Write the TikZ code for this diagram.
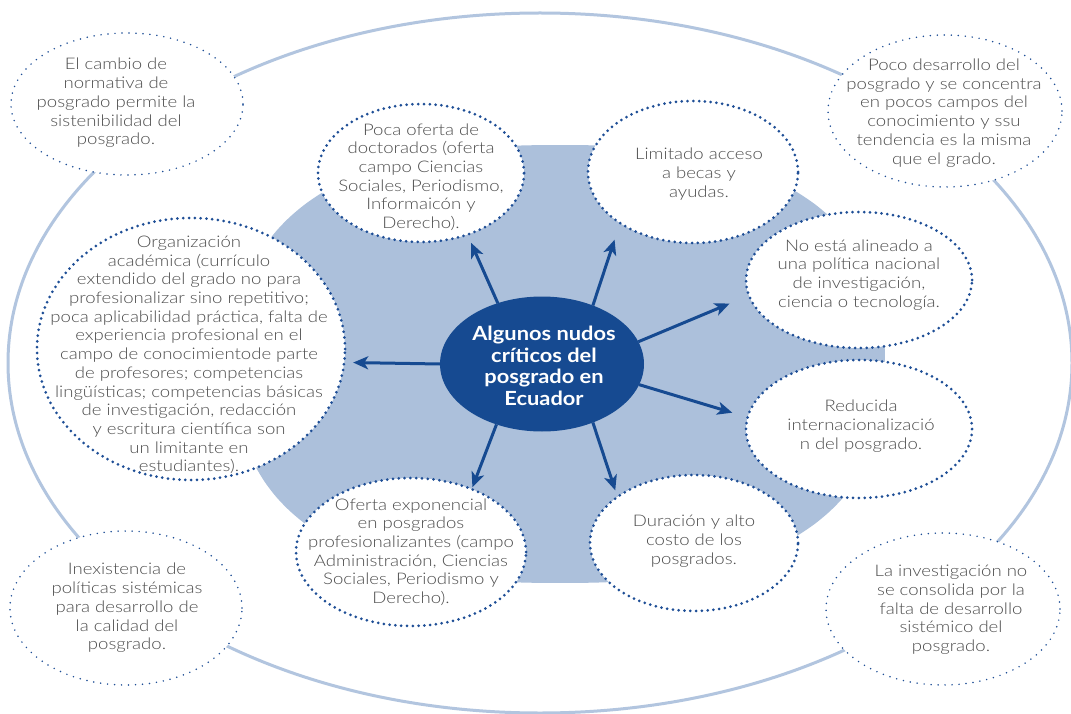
\documentclass[tikz,border=0pt]{standalone}
\usepackage{fontspec}
\setmainfont{Lato}[UprightFont={* Light},BoldFont={* Bold},
  UprightFeatures={FakeStretch=1.16},BoldFeatures={FakeStretch=1.12}]
\usetikzlibrary{arrows.meta,shapes.geometric}

\definecolor{dblue}{RGB}{22,74,145}
\definecolor{dotblue}{RGB}{30,78,150}
\definecolor{blobblue}{RGB}{172,192,219}
\definecolor{ringblue}{RGB}{178,197,223}
\definecolor{txtgray}{RGB}{78,78,78}

\tikzset{
  bubble/.style={ellipse, fill=white, draw=dotblue, line width=3pt,
    dash pattern=on 0pt off 5.8pt, line cap=round, inner sep=0pt, outer sep=0pt},
  cornerbubble/.style={ellipse, fill=white, draw=dotblue, line width=1.7pt,
    dash pattern=on 0pt off 7pt, line cap=round, inner sep=0pt, outer sep=0pt},
  hub/.style={ellipse, fill=dblue, draw=none, inner sep=0pt, outer sep=0pt},
  txt/.style={align=center, inner sep=0pt, text=txtgray,
    font=\fontsize{16}{18.7}\selectfont},
  hubtxt/.style={align=center, inner sep=0pt, text=white,
    font=\bfseries\fontsize{19.5}{21.5}\selectfont},
  arr/.style={draw=dblue, line width=3pt,
    -{Stealth[length=15pt,width=13pt,inset=4pt]}},
}

\begin{document}
\begin{tikzpicture}[x=1pt,y=-1pt]
\useasboundingbox (0,0) rectangle (1071,714);
\fill[white] (0,0) rectangle (1071,714);

% outer ring
\draw[ringblue, line width=3pt] (540,363) ellipse [x radius=532, y radius=350];

% light blue backdrop behind the inner bubbles
\fill[blobblue] plot[domain=2.5:357.5, samples=72, smooth cycle]
  ({560+325*cos(\x)/abs(cos(\x))^0.2}, {364+219*sin(\x)/abs(sin(\x))^0.2});

% corner bubbles
\node[cornerbubble, minimum width=232pt, minimum height=142pt] (k1) at (127,104) {};
\node[cornerbubble, minimum width=234pt, minimum height=152pt] (k2) at (945,111) {};
\node[cornerbubble, minimum width=232pt, minimum height=154pt] (k3) at (126,608) {};
\node[cornerbubble, minimum width=234pt, minimum height=152pt] (k4) at (943,609) {};

% inner bubbles
\node[bubble, minimum width=308pt, minimum height=262pt] (t0) at (191,349) {};
\node[bubble, minimum width=206pt, minimum height=138pt] (t1) at (421,173) {};
\node[bubble, minimum width=210pt, minimum height=142pt] (t2) at (693,172) {};
\node[bubble, minimum width=226pt, minimum height=136pt] (t3) at (859,280) {};
\node[bubble, minimum width=226pt, minimum height=138pt] (t4) at (859,429) {};
\node[bubble, minimum width=208pt, minimum height=136pt] (t5) at (694,543) {};
\node[bubble, minimum width=230pt, minimum height=148pt] (t6) at (411,552) {};

% central node
\node[hub, minimum width=204pt, minimum height=135pt] (c) at (542,364) {};

% arrows from the centre to each bubble
\draw[arr, shorten >=9pt]  (c.126.4) -- (t1.-53.1);
\draw[arr, shorten >=17.5pt] (c.49.7) -- (t2.215.5);
\draw[arr, shorten >=21pt] (c.13) -- (t3.188.9);
\draw[arr, shorten >=16pt] (c.-12.2) -- (t4.174.2);
\draw[arr, shorten >=7pt]  (c.-49.7) -- (t5.149);
\draw[arr, shorten >=2pt]  (c.233.6) -- (t6.46.9);
\draw[arr, shorten >=9pt]  (c.180) -- (t0.-5.2);

% texts
\node[hubtxt] (ctext) at (544,366) {Algunos nudos\\críticos del\\posgrado en\\Ecuador};

\node[txt] (k1text) at (116,103) {El cambio de\\normativa de\\posgrado permite la\\sistenibilidad del\\posgrado.};
\node[txt] (k2text) at (944,113) {Poco desarrollo del\\posgrado y se concentra\\en pocos campos del\\conocimiento y ssu\\tendencia es la misma\\que el grado.};
\node[txt] (k3text) at (127,608) {Inexistencia de\\políticas sistémicas\\para desarrollo de\\la calidad del\\posgrado.};
\node[txt] (k4text) at (951,610) {La investigación no\\se consolida por la\\falta de desarrollo\\sistémico del\\posgrado.};

\node[txt] (t0text) at (189,355) {Organización\\académica (currículo\\extendido del grado no para\\profesionalizar sino repetitivo;\\poca aplicabilidad práctica, falta de\\experiencia profesional en el\\campo de conocimientode parte\\de profesores; competencias\\lingüísticas; competencias básicas\\de investigación, redacción\\y escritura científica son\\un limitante en\\estudiantes).};
\node[txt] (t1text) at (421,177) {Poca oferta de\\doctorados (oferta\\campo Ciencias\\Sociales, Periodismo,\\Informaicón y\\Derecho).};
\node[txt] (t2text) at (699,174) {Limitado acceso\\a becas y\\ayudas.};
\node[txt] (t3text) at (859,275) {No está alineado a\\una política nacional\\de investigación,\\ciencia o tecnología.};
\node[txt] (t4text) at (861,426) {Reducida\\internacionalizació\\n del posgrado.};
\node[txt] (t5text) at (694,541) {Duración y alto\\costo de los\\posgrados.};
\node[txt] (t6text) at (411,552) {Oferta exponencial\\en posgrados\\profesionalizantes (campo\\Administración, Ciencias\\Sociales, Periodismo y\\Derecho).};
\end{tikzpicture}
\end{document}
